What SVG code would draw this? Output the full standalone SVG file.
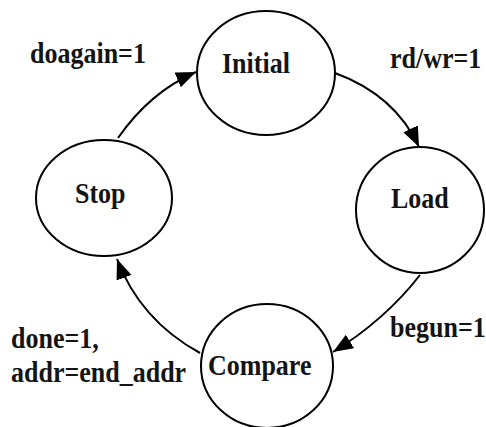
<svg xmlns="http://www.w3.org/2000/svg" width="486" height="427" viewBox="0 0 486 427">
<defs>
<style>
.state{fill:#fff;stroke:#000;stroke-width:2}
.lbl{font-family:'Liberation Serif','Times New Roman',serif;font-weight:700;font-size:26px;fill:#141414}
.edge{fill:none;stroke:#000;stroke-width:2}
</style>
<marker id="ah" markerUnits="userSpaceOnUse" markerWidth="21" markerHeight="17" refX="20" refY="8" orient="auto">
<path d="M0,0 L20,8 L0,16 z" fill="#000"/>
</marker>
</defs>
<rect width="486" height="427" fill="#fff"/>
<g id="connectors">
<path class="edge" d="M118,138 Q150,92 196,72" marker-end="url(#ah)"/>
<path class="edge" d="M335,73 Q395,95 419,147" marker-end="url(#ah)"/>
<path class="edge" d="M420,275 Q385,320 333,352" marker-end="url(#ah)"/>
<path class="edge" d="M200,353 Q140,320 117,259" marker-end="url(#ah)"/>
</g>
<g id="initial">
<ellipse class="state" cx="266" cy="73" rx="69" ry="62"/>
<text class="lbl" transform="translate(222,73) scale(1,1.12)">Initial</text>
</g>
<g id="load">
<ellipse class="state" cx="420" cy="210" rx="64" ry="63"/>
<text class="lbl" transform="translate(391,208) scale(1,1.12)">Load</text>
</g>
<g id="compare">
<ellipse class="state" cx="267" cy="366" rx="66" ry="62"/>
<text class="lbl" transform="translate(208,375) scale(1,1.12)">Compare</text>
</g>
<g id="stop">
<ellipse class="state" cx="104" cy="198" rx="68" ry="58"/>
<text class="lbl" transform="translate(75,203) scale(1,1.12)">Stop</text>
</g>
<g id="labels">
<text class="lbl" transform="translate(30,63) scale(1,1.12)">doagain=1</text>
<text class="lbl" transform="translate(390,68) scale(1,1.12)">rd/wr=1</text>
<text class="lbl" transform="translate(390,337) scale(1,1.12)">begun=1</text>
<text class="lbl" transform="translate(11,348) scale(1,1.12)">done=1,</text>
<text class="lbl" transform="translate(11,382) scale(1,1.12)">addr=end_addr</text>
</g>
</svg>
